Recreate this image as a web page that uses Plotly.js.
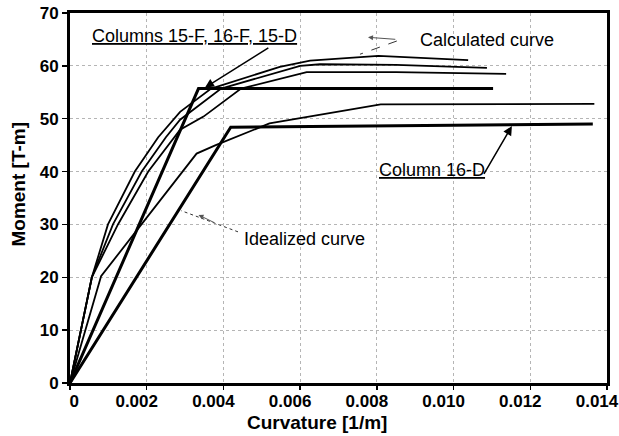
<!DOCTYPE html>
<html>
<head>
<meta charset="utf-8">
<script src="https://cdn.plot.ly/plotly-3.0.1.min.js"></script>
<style>html,body{margin:0;padding:0;background:#fff;}#chart{width:619px;height:436px;}</style>
</head>
<body>
<div id="chart"></div>
<script>
// Calculated curves: columns 15-F, 16-F, 15-D
const calcA_x = [0, 0.00057, 0.00099, 0.00169, 0.0023, 0.00287, 0.00368, 0.00547, 0.00626, 0.00804, 0.01038];
const calcA_y = [0, 20, 30, 40, 46.5, 51.3, 55.7, 59.8, 61.0, 61.9, 61.1];
const calcB_x = [0, 0.00057, 0.00112, 0.00187, 0.0025, 0.00287, 0.00394, 0.0060, 0.00652, 0.0085, 0.01087];
const calcB_y = [0, 20, 30, 40, 46.5, 49.8, 55.7, 60.0, 60.3, 60.2, 59.6];
const calcC_x = [0, 0.00057, 0.00125, 0.00204, 0.00287, 0.00348, 0.00446, 0.00617, 0.0085, 0.01137];
const calcC_y = [0, 20, 30, 40, 47.9, 50.4, 55.7, 58.8, 58.8, 58.5];
// Calculated curve: column 16-D
const calcD_x = [0, 0.00081, 0.0033, 0.0038, 0.0052, 0.0081, 0.01367];
const calcD_y = [0, 20.2, 43.4, 45.0, 49.1, 52.7, 52.8];
// Idealized curves
const ideal1_x = [0, 0.00335, 0.01103];
const ideal1_y = [0, 55.7, 55.7];
const ideal2_x = [0, 0.00419, 0.01363];
const ideal2_y = [0, 48.4, 49.0];
// Ticks
const xTickVals = [0, 0.002, 0.004, 0.006, 0.008, 0.010, 0.012, 0.014];
const xTickText = ['\u00a0\u00a0\u00a0\u00a0\u00a0\u00a00', '0.002', '0.004', '0.006', '0.008', '0.010', '0.012', '0.014'];
const yTickVals = [0, 10, 20, 30, 40, 50, 60, 70];

const FONT = 'Liberation Sans, Arial, Helvetica, sans-serif';
const thin = {color: '#000', width: 1.8};
const thick = {color: '#000', width: 3};

const traces = [
  {x: calcA_x, y: calcA_y, mode: 'lines', line: thin},
  {x: calcB_x, y: calcB_y, mode: 'lines', line: thin},
  {x: calcC_x, y: calcC_y, mode: 'lines', line: thin},
  {x: calcD_x, y: calcD_y, mode: 'lines', line: thin},
  {x: ideal1_x, y: ideal1_y, mode: 'lines', line: thick},
  {x: ideal2_x, y: ideal2_y, mode: 'lines', line: thick}
];

const annFont = {family: FONT, size: 18, color: '#000'};
const layout = {
  width: 619, height: 436,
  margin: {l: 70, r: 12, t: 13, b: 53},
  paper_bgcolor: '#fff', plot_bgcolor: '#fff',
  showlegend: false,
  font: {family: FONT, color: '#000'},
  xaxis: {
    range: [0, 0.014], tickvals: xTickVals, ticktext: xTickText,
    showline: true, linewidth: 3, linecolor: '#000', mirror: true,
    ticks: 'outside', ticklen: 4, tickwidth: 1.5, tickcolor: '#000',
    ticklabelshift: -10, ticklabelstandoff: -3,
    tickfont: {family: FONT, size: 17, weight: 'bold', color: '#000'},
    showgrid: true, gridcolor: '#b5b5b5', griddash: 'dot', gridwidth: 1,
    zeroline: false
  },
  yaxis: {
    range: [0, 70], tickvals: yTickVals,
    showline: true, linewidth: 3, linecolor: '#000', mirror: true,
    ticks: 'outside', ticklen: 5, tickwidth: 1.5, tickcolor: '#000',
    tickfont: {family: FONT, size: 17, weight: 'bold', color: '#000'},
    showgrid: true, gridcolor: '#b5b5b5', griddash: 'dot', gridwidth: 1,
    zeroline: false
  },
  shapes: [
    {type: 'line', xref: 'x', yref: 'y', x0: 0.00852, y0: 64.7, x1: 0.00756, y1: 62.2, line: {color: '#333', width: 1, dash: 'dash'}},
    {type: 'line', xref: 'x', yref: 'y', x0: 0.00438, y0: 28.6, x1: 0.00290, y1: 32.6, line: {color: '#333', width: 1, dash: 'dot'}}
  ],
  annotations: [
    {xref: 'paper', yref: 'paper', x: -0.095, y: 0.539, text: 'Moment [T-m]', textangle: -90, showarrow: false,
     font: {family: FONT, size: 19, weight: 'bold', color: '#000'}, xanchor: 'center', yanchor: 'middle'},
    {xref: 'paper', yref: 'paper', x: 0.46, y: -0.106, text: 'Curvature [1/m]', showarrow: false,
     font: {family: FONT, size: 19, weight: 'bold', color: '#000'}, xanchor: 'center', yanchor: 'middle'},
    {xref: 'x', yref: 'y', x: 0.00052, y: 65.6, text: '<u>Columns 15-F, 16-F, 15-D</u>', showarrow: false,
     font: annFont, xanchor: 'left', yanchor: 'middle'},
    {xref: 'x', yref: 'y', x: 0.00352, y: 55.9, axref: 'x', ayref: 'y', ax: 0.00521, ay: 63.6, text: '',
     showarrow: true, arrowhead: 2, arrowsize: 1.2, arrowwidth: 1.5, arrowcolor: '#000'},
    {xref: 'x', yref: 'y', x: 0.00907, y: 64.9, text: 'Calculated curve', showarrow: false,
     font: annFont, xanchor: 'left', yanchor: 'middle'},
    {xref: 'x', yref: 'y', x: 0.00777, y: 65.4, axref: 'x', ayref: 'y', ax: 0.00852, ay: 65.0, text: '',
     showarrow: true, arrowhead: 2, arrowsize: 1, arrowwidth: 1, arrowcolor: '#555'},
    {xref: 'x', yref: 'y', x: 0.00448, y: 27.2, text: 'Idealized curve', showarrow: false,
     font: annFont, xanchor: 'left', yanchor: 'middle'},
    {xref: 'x', yref: 'y', x: 0.00335, y: 31.8, axref: 'x', ayref: 'y', ax: 0.00380, ay: 30.2, text: '',
     showarrow: true, arrowhead: 2, arrowsize: 1, arrowwidth: 1, arrowcolor: '#555'},
    {xref: 'x', yref: 'y', x: 0.0080, y: 40.3, text: '<u>Column 16-D</u>', showarrow: false,
     font: annFont, xanchor: 'left', yanchor: 'middle'},
    {xref: 'x', yref: 'y', x: 0.01152, y: 48.6, axref: 'x', ayref: 'y', ax: 0.01077, ay: 39.3, text: '',
     showarrow: true, arrowhead: 2, arrowsize: 1.2, arrowwidth: 1.5, arrowcolor: '#000'}
  ]
};

Plotly.newPlot('chart', traces, layout, {staticPlot: true, displayModeBar: false});
</script>
</body>
</html>
